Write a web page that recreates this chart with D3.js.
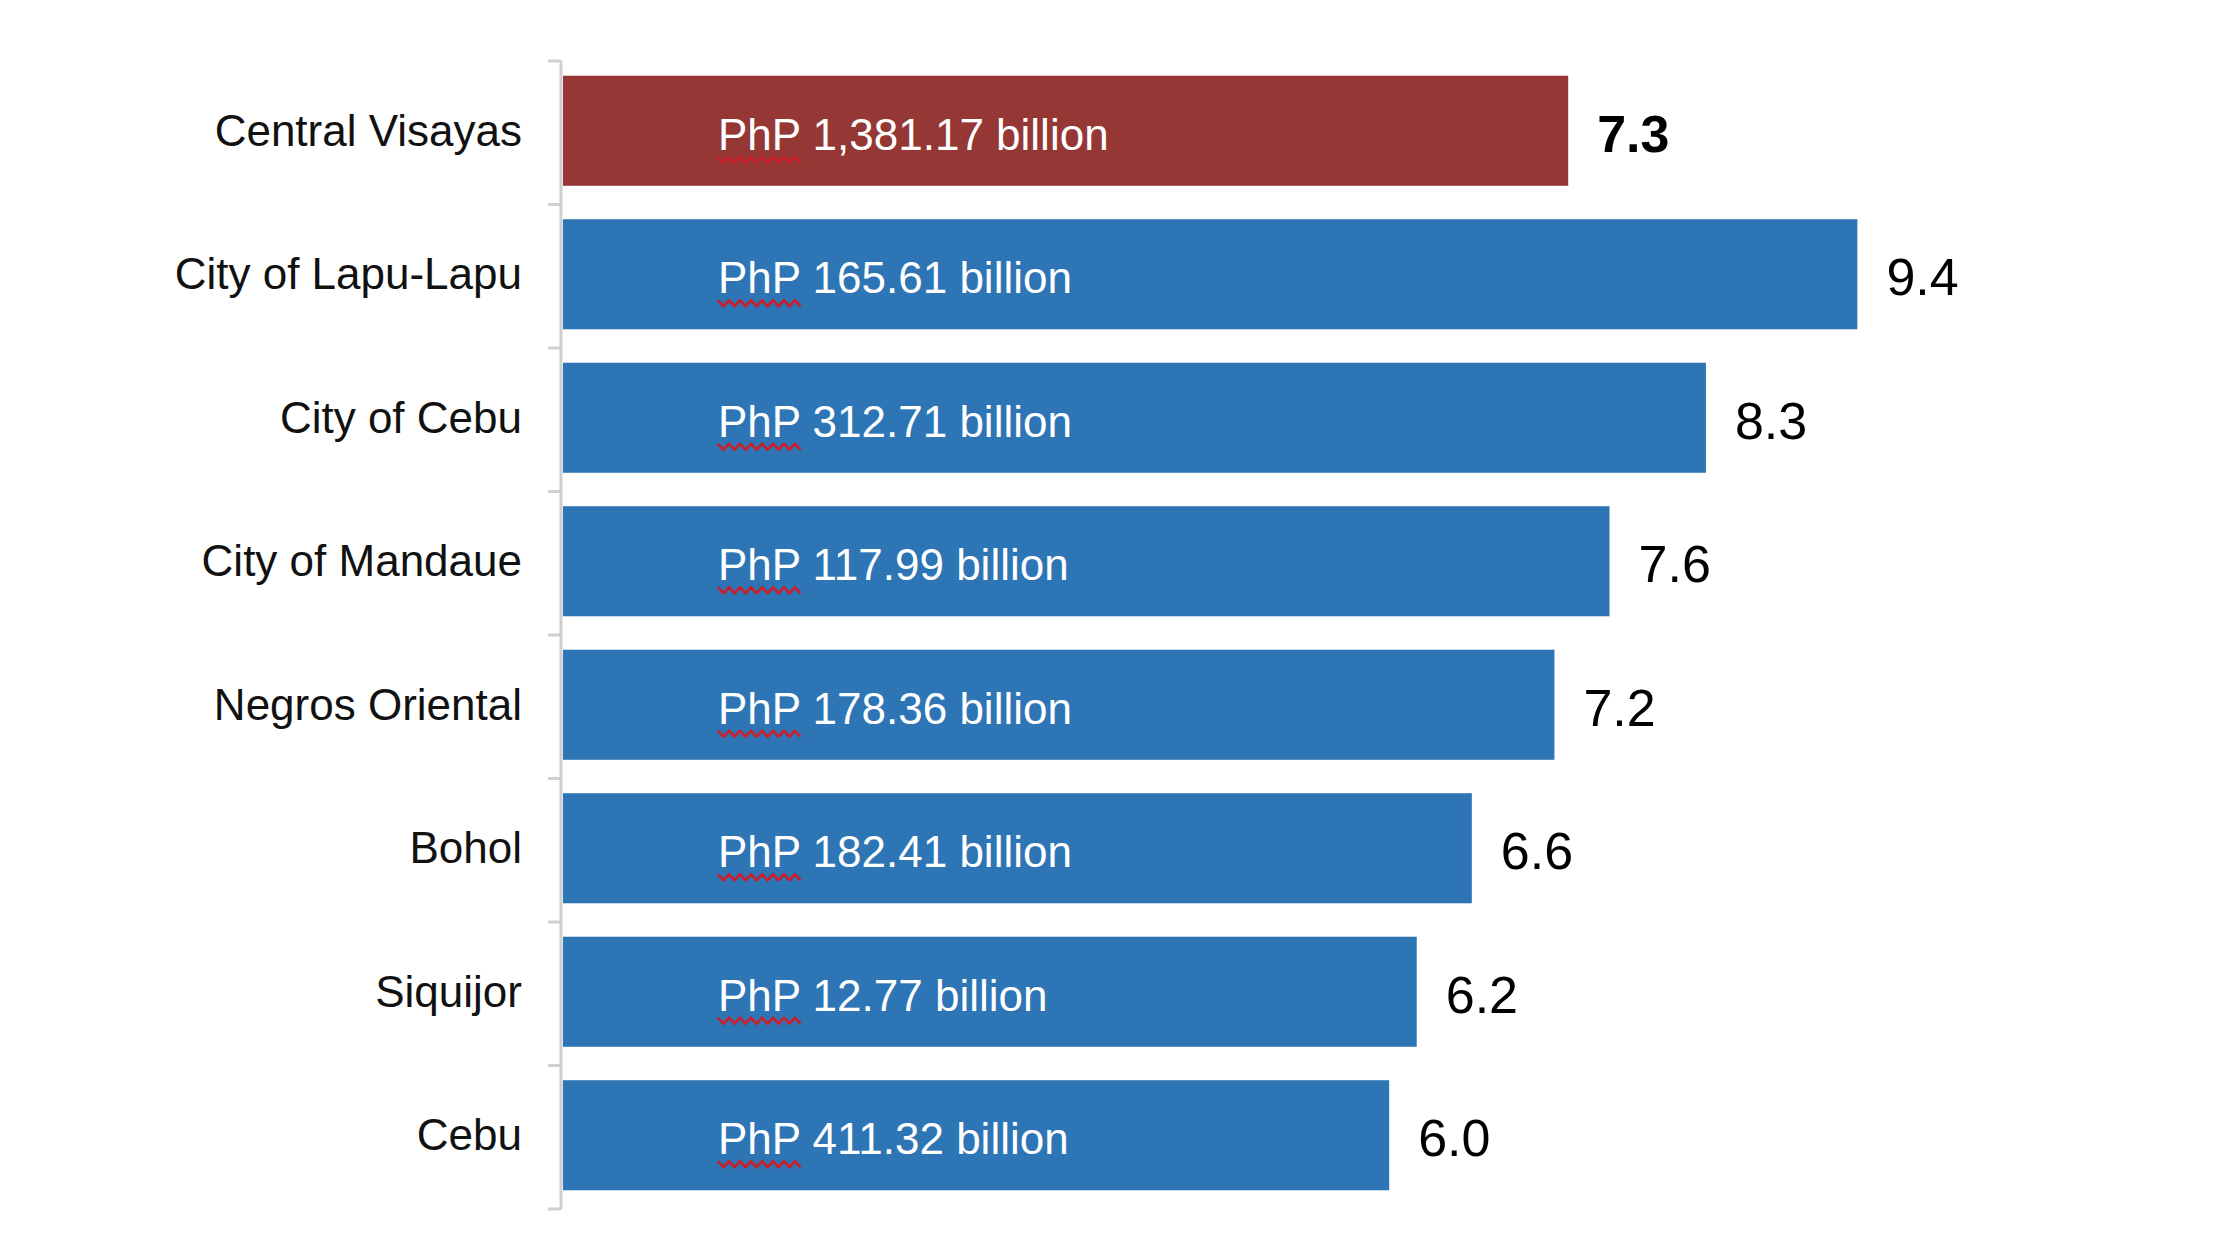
<!DOCTYPE html>
<html>
<head>
<meta charset="utf-8">
<script src="https://cdn.jsdelivr.net/npm/d3@7"></script>
<style>
  html, body { margin: 0; padding: 0; background: #ffffff; }
  svg { display: block; }
  text { font-family: "Liberation Sans", Arial, sans-serif; }
</style>
</head>
<body>
<svg id="chart" width="2220" height="1249"></svg>
<script>
// ---- data ----
const categories = ["Central Visayas", "City of Lapu-Lapu", "City of Cebu", "City of Mandaue",
                    "Negros Oriental", "Bohol", "Siquijor", "Cebu"];
const growthRates = [7.3, 9.4, 8.3, 7.6, 7.2, 6.6, 6.2, 6.0];
const grdpLabels = ["1,381.17", "165.61", "312.71", "117.99", "178.36", "182.41", "12.77", "411.32"];
const highlighted = ["Central Visayas"];

const rows = categories.map((c, i) => ({ cat: c, value: growthRates[i], grdp: grdpLabels[i] }));

const svg = d3.select("#chart");
const W = 2220, H = 1249;
svg.append("rect").attr("width", W).attr("height", H).attr("fill", "#ffffff");

const x0 = 563, plotTop = 61, plotBottom = 1209;
const x = d3.scaleLinear().domain([0, 10]).range([x0, x0 + 1377]);
const y = d3.scaleBand().domain(categories).range([plotTop, plotBottom])
  .paddingInner(0.233).paddingOuter(0.1165);

const RED = "#953735", BLUE = "#2E75B6";

// bars
svg.append("g").selectAll("rect").data(rows).join("rect")
  .attr("x", x(0))
  .attr("y", d => y(d.cat) - 2)
  .attr("width", d => x(d.value) - x(0))
  .attr("height", y.bandwidth())
  .attr("fill", d => highlighted.includes(d.cat) ? RED : BLUE);

// axis with category labels
const axisX = 561;
const axisG = svg.append("g").attr("transform", `translate(${axisX},0)`)
  .call(d3.axisLeft(y).tickSize(0).tickPadding(39));
axisG.select(".domain").remove();
axisG.selectAll("text")
  .attr("font-family", "'Liberation Sans', Arial, sans-serif")
  .attr("font-size", 44)
  .attr("fill", "#111")
  .attr("dy", "0.3em");

// axis line and boundary ticks
const axisColor = "#cfcfcf";
svg.append("line")
  .attr("x1", axisX).attr("x2", axisX)
  .attr("y1", y.range()[0]).attr("y2", y.range()[1])
  .attr("stroke", axisColor).attr("stroke-width", 3);
svg.append("g").selectAll("line").data(d3.range(categories.length + 1)).join("line")
  .attr("x1", axisX - 13).attr("x2", axisX)
  .attr("y1", i => y.range()[0] + i * y.step())
  .attr("y2", i => y.range()[0] + i * y.step())
  .attr("stroke", axisColor).attr("stroke-width", 3);

// value labels
svg.append("g").selectAll("text").data(rows).join("text")
  .attr("x", d => x(d.value) + 29)
  .attr("y", d => y(d.cat) + y.bandwidth() / 2)
  .attr("dy", "0.37em")
  .attr("font-size", 52)
  .attr("font-weight", d => highlighted.includes(d.cat) ? "bold" : "normal")
  .attr("fill", "#000")
  .text(d => d.value.toFixed(1));

// GRDP labels inside bars
const inner = svg.append("g").selectAll("g").data(rows).join("g");
const labelX = x(0) + 155;
inner.append("text")
  .attr("x", labelX)
  .attr("y", d => y(d.cat) + y.bandwidth() / 2 + 17)
  .attr("font-size", 44)
  .attr("fill", "#ffffff")
  .text(d => `PhP ${d.grdp} billion`);

// measure "PhP" for the wavy underline
const probe = svg.append("text").attr("font-size", 44).attr("x", -1000).attr("y", -1000).text("PhP");
const phpW = probe.node().getComputedTextLength();
probe.remove();

const wave = d3.line().curve(d3.curveLinear);
inner.append("path")
  .attr("d", d => {
    const base = y(d.cat) + y.bandwidth() / 2 + 17 + 10;
    const pts = [];
    const step = 5.5;
    for (let k = 0; k * step <= phpW + 4; k++) {
      pts.push([labelX + k * step, base + (k % 2 === 0 ? -3 : 3)]);
    }
    return wave(pts);
  })
  .attr("fill", "none")
  .attr("stroke", "#c8202c")
  .attr("stroke-width", 2.6)
  .attr("stroke-linejoin", "round");
</script>
</body>
</html>
